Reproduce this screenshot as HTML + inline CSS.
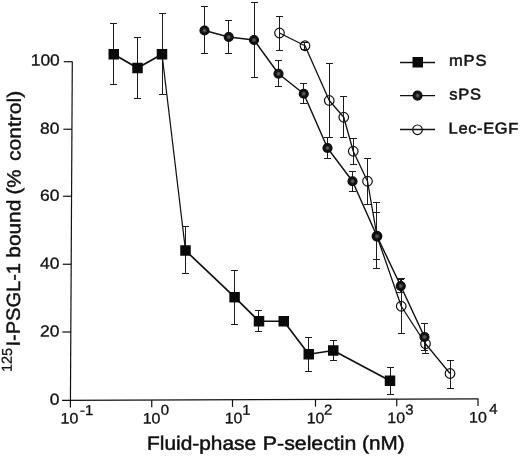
<!DOCTYPE html>
<html><head><meta charset="utf-8"><title>Figure</title>
<style>
html,body{margin:0;padding:0;background:#fff;}
svg{display:block;}
text{font-family:"Liberation Sans",Arial,Helvetica,sans-serif;fill:#111;}
.ln{stroke:#111;stroke-width:1.45;fill:none;stroke-linejoin:round;}
.eb{stroke:#1c1c1c;stroke-width:1;fill:none;}
.ax{stroke:#111;stroke-width:1.2;fill:none;}
</style></head><body>
<svg width="520" height="456" viewBox="0 0 520 456">
<defs><radialGradient id="sg" cx="50%" cy="50%" r="50%"><stop offset="0" stop-color="#666"/><stop offset="0.28" stop-color="#4c4c4c"/><stop offset="0.55" stop-color="#141414"/><stop offset="1" stop-color="#0c0c0c"/></radialGradient></defs>
<rect width="520" height="456" fill="#fff"/>

<path class="ax" d="M72.3 61.5 L70.4 407.5"/>
<path class="ax" d="M62 400.3 L478.3 398.8"/>
<path class="ax" d="M63.80 61.7 L72.30 61.7"/>
<path class="ax" d="M63.43 129.25 L71.93 129.25"/>
<path class="ax" d="M63.06 196.25 L71.56 196.25"/>
<path class="ax" d="M62.69 264.25 L71.19 264.25"/>
<path class="ax" d="M62.31 332 L70.81 332"/>
<path class="ax" d="M151.75 399.98 L151.75 407.18"/>
<path class="ax" d="M232.5 399.69 L232.5 406.89"/>
<path class="ax" d="M315.5 399.39 L315.5 406.59"/>
<path class="ax" d="M396.75 399.09 L396.75 406.29"/>
<path class="ax" d="M478 398.80 L478 406.00"/>
<path class="eb" d="M113.5 23.5 L113.5 84.5 M110.0 23.5 L117.0 23.5 M110.0 84.5 L117.0 84.5"/>
<path class="eb" d="M137.5 37.5 L137.5 98.5 M134.0 37.5 L141.0 37.5 M134.0 98.5 L141.0 98.5"/>
<path class="eb" d="M162.5 13.5 L162.5 94.5 M159.0 13.5 L166.0 13.5 M159.0 94.5 L166.0 94.5"/>
<path class="eb" d="M185.5 226.5 L185.5 273.5 M182.0 226.5 L189.0 226.5 M182.0 273.5 L189.0 273.5"/>
<path class="eb" d="M234.5 270.5 L234.5 324.5 M231.0 270.5 L238.0 270.5 M231.0 324.5 L238.0 324.5"/>
<path class="eb" d="M258.5 310.5 L258.5 331.5 M255.0 310.5 L262.0 310.5 M255.0 331.5 L262.0 331.5"/>
<path class="eb" d="M308.5 337.5 L308.5 371.5 M305.0 337.5 L312.0 337.5 M305.0 371.5 L312.0 371.5"/>
<path class="eb" d="M333.5 340.5 L333.5 360.5 M330.0 340.5 L337.0 340.5 M330.0 360.5 L337.0 360.5"/>
<path class="eb" d="M390.5 367.5 L390.5 394.5 M387.0 367.5 L394.0 367.5 M387.0 394.5 L394.0 394.5"/>
<path class="eb" d="M204.5 6.5 L204.5 53.5 M201.0 6.5 L208.0 6.5 M201.0 53.5 L208.0 53.5"/>
<path class="eb" d="M228.5 20.5 L228.5 53.5 M225.0 20.5 L232.0 20.5 M225.0 53.5 L232.0 53.5"/>
<path class="eb" d="M254.5 2.5 L254.5 77.5 M251.0 2.5 L258.0 2.5 M251.0 77.5 L258.0 77.5"/>
<path class="eb" d="M278.5 60.5 L278.5 86.5 M275.0 60.5 L282.0 60.5 M275.0 86.5 L282.0 86.5"/>
<path class="eb" d="M303.5 83.5 L303.5 103.5 M300.0 83.5 L307.0 83.5 M300.0 103.5 L307.0 103.5"/>
<path class="eb" d="M327.5 137.5 L327.5 158.5 M324.0 137.5 L331.0 137.5 M324.0 158.5 L331.0 158.5"/>
<path class="eb" d="M352.5 171.5 L352.5 191.5 M349.0 171.5 L356.0 171.5 M349.0 191.5 L356.0 191.5"/>
<path class="eb" d="M376.5 212.5 L376.5 259.5 M373.0 212.5 L380.0 212.5 M373.0 259.5 L380.0 259.5"/>
<path class="eb" d="M400.5 279.5 L400.5 292.5 M397.0 279.5 L404.0 279.5 M397.0 292.5 L404.0 292.5"/>
<path class="eb" d="M424.5 323.5 L424.5 350.5 M421.0 323.5 L428.0 323.5 M421.0 350.5 L428.0 350.5"/>
<path class="eb" d="M279.5 16.5 L279.5 50.5 M276.0 16.5 L283.0 16.5 M276.0 50.5 L283.0 50.5"/>
<path class="eb" d="M304.5 42.5 L304.5 49.5 M301.0 42.5 L308.0 42.5 M301.0 49.5 L308.0 49.5"/>
<path class="eb" d="M329.5 63.5 L329.5 137.5 M326.0 63.5 L333.0 63.5 M326.0 137.5 L333.0 137.5"/>
<path class="eb" d="M343.5 96.5 L343.5 137.5 M340.0 96.5 L347.0 96.5 M340.0 137.5 L347.0 137.5"/>
<path class="eb" d="M353.5 138.5 L353.5 164.5 M350.0 138.5 L357.0 138.5 M350.0 164.5 L357.0 164.5"/>
<path class="eb" d="M367.5 158.5 L367.5 204.5 M364.0 158.5 L371.0 158.5 M364.0 204.5 L371.0 204.5"/>
<path class="eb" d="M376.5 202.5 L376.5 268.5 M373.0 202.5 L380.0 202.5 M373.0 268.5 L380.0 268.5"/>
<path class="eb" d="M401.5 278.5 L401.5 333.5 M398.0 278.5 L405.0 278.5 M398.0 333.5 L405.0 333.5"/>
<path class="eb" d="M425.5 334.5 L425.5 353.5 M422.0 334.5 L429.0 334.5 M422.0 353.5 L429.0 353.5"/>
<path class="eb" d="M450.5 360.5 L450.5 388.5 M447.0 360.5 L454.0 360.5 M447.0 388.5 L454.0 388.5"/>
<path class="ln" style="stroke-width:1.3" d="M279.5 33 L305 45.75 L329.25 100.5 L343.75 117.25 L353.25 151.25 L367.5 181.25 L377 236.25 L401.25 306.25 L425.5 343.75 L450 373.5"/>
<circle cx="279.5" cy="33" r="4.8" fill="none" stroke="#111" stroke-width="1.2"/>
<circle cx="305" cy="45.75" r="4.8" fill="none" stroke="#111" stroke-width="1.2"/>
<circle cx="329.25" cy="100.5" r="4.8" fill="none" stroke="#111" stroke-width="1.2"/>
<circle cx="343.75" cy="117.25" r="4.8" fill="none" stroke="#111" stroke-width="1.2"/>
<circle cx="353.25" cy="151.25" r="4.8" fill="none" stroke="#111" stroke-width="1.2"/>
<circle cx="367.5" cy="181.25" r="4.8" fill="none" stroke="#111" stroke-width="1.2"/>
<circle cx="377" cy="236.25" r="4.8" fill="none" stroke="#111" stroke-width="1.2"/>
<circle cx="401.25" cy="306.25" r="4.8" fill="none" stroke="#111" stroke-width="1.2"/>
<circle cx="425.5" cy="343.75" r="4.8" fill="none" stroke="#111" stroke-width="1.2"/>
<circle cx="450" cy="373.5" r="4.8" fill="none" stroke="#111" stroke-width="1.2"/>
<path class="ln" style="stroke-width:1.45" d="M204.5 30.5 L228.75 37 L254 40 L278.5 73.75 L303.75 93.75 L327.5 148 L352.5 181.25 L377 236.25 L400.75 286 L424.5 337"/>
<circle cx="204.5" cy="30.5" r="4.5" fill="url(#sg)" stroke="#0c0c0c" stroke-width="1.2"/>
<circle cx="228.75" cy="37" r="4.5" fill="url(#sg)" stroke="#0c0c0c" stroke-width="1.2"/>
<circle cx="254" cy="40" r="4.5" fill="url(#sg)" stroke="#0c0c0c" stroke-width="1.2"/>
<circle cx="278.5" cy="73.75" r="4.5" fill="url(#sg)" stroke="#0c0c0c" stroke-width="1.2"/>
<circle cx="303.75" cy="93.75" r="4.5" fill="url(#sg)" stroke="#0c0c0c" stroke-width="1.2"/>
<circle cx="327.5" cy="148" r="4.5" fill="url(#sg)" stroke="#0c0c0c" stroke-width="1.2"/>
<circle cx="352.5" cy="181.25" r="4.5" fill="url(#sg)" stroke="#0c0c0c" stroke-width="1.2"/>
<circle cx="377" cy="236.25" r="4.5" fill="url(#sg)" stroke="#0c0c0c" stroke-width="1.2"/>
<circle cx="400.75" cy="286" r="4.5" fill="url(#sg)" stroke="#0c0c0c" stroke-width="1.2"/>
<circle cx="424.5" cy="337" r="4.5" fill="url(#sg)" stroke="#0c0c0c" stroke-width="1.2"/>
<path class="ln" style="stroke-width:1.9" d="M113.75 54.25 L137.5 68 L162 54.25"/>
<path class="ln" style="stroke-width:1.25" d="M162 54.25 L185.5 250.5"/>
<path class="ln" style="stroke-width:1.7" d="M185.5 250.5 L234.6 297.2 L259 321.25 L283.75 321.25 L308.75 354.25 L333.25 350.5 L390 380.75"/>
<rect x="108.5" y="49.0" width="10.5" height="10.5" fill="#0a0a0a"/>
<rect x="132.25" y="62.75" width="10.5" height="10.5" fill="#0a0a0a"/>
<rect x="156.75" y="49.0" width="10.5" height="10.5" fill="#0a0a0a"/>
<rect x="180.25" y="245.25" width="10.5" height="10.5" fill="#0a0a0a"/>
<rect x="229.35" y="291.95" width="10.5" height="10.5" fill="#0a0a0a"/>
<rect x="253.75" y="316.0" width="10.5" height="10.5" fill="#0a0a0a"/>
<rect x="278.5" y="316.0" width="10.5" height="10.5" fill="#0a0a0a"/>
<rect x="303.5" y="349.0" width="10.5" height="10.5" fill="#0a0a0a"/>
<rect x="328.0" y="345.25" width="10.5" height="10.5" fill="#0a0a0a"/>
<rect x="384.75" y="375.5" width="10.5" height="10.5" fill="#0a0a0a"/>
<path class="ln" d="M400 62.5 L435 62.5 M400 95.6 L435 95.6"/>
<path class="ln" style="stroke-width:1.3" d="M400 129.5 L435 129.5"/>
<rect x="412.5" y="57" width="10.5" height="10.5" fill="#0a0a0a"/>
<circle cx="417.5" cy="95.6" r="4.5" fill="url(#sg)" stroke="#0c0c0c" stroke-width="1.2"/>
<circle cx="417.5" cy="129.8" r="4.8" fill="none" stroke="#111" stroke-width="1.2"/>
<text transform="translate(449.00 65.80) rotate(0.03) scale(0.2625 0.25)" font-size="62.8" stroke="#111" stroke-width="2.00" letter-spacing="3.24">mPS</text>
<text transform="translate(449.20 99.40) rotate(0.03) scale(0.2625 0.25)" font-size="62.8" stroke="#111" stroke-width="2.00" letter-spacing="3.24">sPS</text>
<text transform="translate(448.60 133.60) rotate(0.03) scale(0.2625 0.25)" font-size="62.8" stroke="#111" stroke-width="2.00" letter-spacing="2.48">Lec-EGF</text>
<text transform="translate(30.71 65.60) rotate(0.03) scale(0.2725 0.25)" font-size="64.0" stroke="#111" stroke-width="1.20">100</text>
<text transform="translate(40.01 133.75) rotate(0.03) scale(0.2725 0.25)" font-size="64.0" stroke="#111" stroke-width="1.20">80</text>
<text transform="translate(40.01 200.75) rotate(0.03) scale(0.2725 0.25)" font-size="64.0" stroke="#111" stroke-width="1.20">60</text>
<text transform="translate(40.01 268.75) rotate(0.03) scale(0.2725 0.25)" font-size="64.0" stroke="#111" stroke-width="1.20">40</text>
<text transform="translate(40.01 336.50) rotate(0.03) scale(0.2725 0.25)" font-size="64.0" stroke="#111" stroke-width="1.20">20</text>
<text transform="translate(49.70 404.70) rotate(0.03) scale(0.2725 0.25)" font-size="64.0" stroke="#111" stroke-width="1.20">0</text>
<text transform="translate(60.60 423.60) rotate(0.03) scale(0.2625 0.25)" font-size="60.8" stroke="#111" stroke-width="1.20">10</text>
<text transform="translate(80.00 414.90) rotate(0.03) scale(0.2625 0.25)" font-size="56.8" stroke="#111" stroke-width="1.20">-1</text>
<text transform="translate(142.73 423.48) rotate(0.03) scale(0.2625 0.25)" font-size="60.8" stroke="#111" stroke-width="1.20">10</text>
<text transform="translate(160.83 414.78) rotate(0.03) scale(0.2625 0.25)" font-size="56.8" stroke="#111" stroke-width="1.20">0</text>
<text transform="translate(224.66 423.36) rotate(0.03) scale(0.2625 0.25)" font-size="60.8" stroke="#111" stroke-width="1.20">10</text>
<text transform="translate(242.36 414.66) rotate(0.03) scale(0.2625 0.25)" font-size="56.8" stroke="#111" stroke-width="1.20">1</text>
<text transform="translate(306.73 423.23) rotate(0.03) scale(0.2625 0.25)" font-size="60.8" stroke="#111" stroke-width="1.20">10</text>
<text transform="translate(324.03 414.53) rotate(0.03) scale(0.2625 0.25)" font-size="56.8" stroke="#111" stroke-width="1.20">2</text>
<text transform="translate(387.36 423.11) rotate(0.03) scale(0.2625 0.25)" font-size="60.8" stroke="#111" stroke-width="1.20">10</text>
<text transform="translate(405.16 414.41) rotate(0.03) scale(0.2625 0.25)" font-size="56.8" stroke="#111" stroke-width="1.20">3</text>
<text transform="translate(469.09 422.39) rotate(0.03) scale(0.2625 0.25)" font-size="60.8" stroke="#111" stroke-width="1.20">10</text>
<text transform="translate(489.29 413.69) rotate(0.03) scale(0.2625 0.25)" font-size="56.8" stroke="#111" stroke-width="1.20">4</text>
<text transform="translate(147.00 449.80) rotate(0.03) scale(0.2720 0.25)" font-size="76.8" stroke="#111" stroke-width="2.00">Fluid-phase</text>
<text transform="translate(262.85 449.70) rotate(0.03) scale(0.2775 0.25)" font-size="76.8" stroke="#111" stroke-width="2.00">P-selectin</text>
<text transform="translate(362.10 449.60) rotate(0.03) scale(0.2692 0.25)" font-size="76.8" stroke="#111" stroke-width="2.00">(nM)</text>
<g transform="translate(19.6 371.5) rotate(-89.75)">
<text transform="translate(-0.60 -7.80) rotate(0.03) scale(0.2500 0.25)" font-size="58.0" stroke="#111" stroke-width="1.00">125</text>
<text transform="translate(24.90 0.00) rotate(0.03) scale(0.2612 0.25)" font-size="76.8" stroke="#111" stroke-width="1.80">I-PSGL-1</text>
<text transform="translate(113.80 0.00) rotate(0.03) scale(0.2715 0.25)" font-size="76.8" stroke="#111" stroke-width="1.80">bound</text>
<text transform="translate(177.00 0.00) rotate(0.03) scale(0.2665 0.25)" font-size="76.8" stroke="#111" stroke-width="1.80">(%</text>
<text transform="translate(210.60 0.00) rotate(0.03) scale(0.2737 0.25)" font-size="76.8" stroke="#111" stroke-width="1.80">control)</text>
</g>
</svg></body></html>
